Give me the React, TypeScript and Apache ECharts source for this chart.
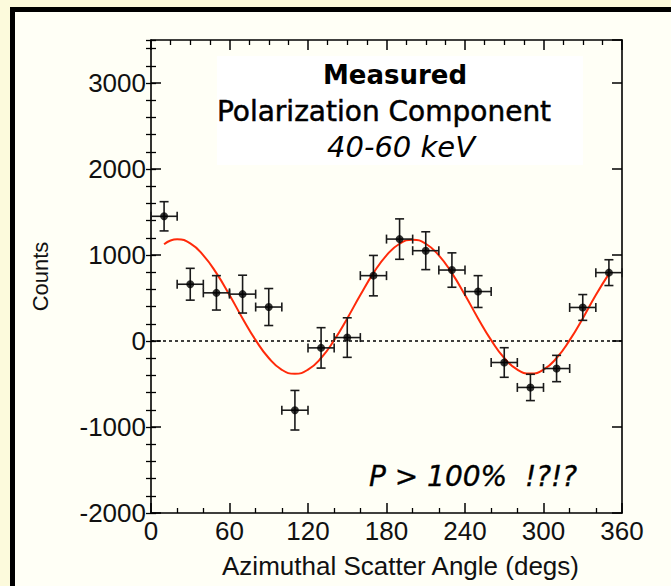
import React, { useEffect, useRef } from "react";
import * as echarts from "echarts";

// ---- data ----
const angles = [10, 30, 50, 70, 90, 110, 130, 150, 170, 190, 210, 230, 250, 270, 290, 310, 330, 350];
const counts = [1450, 660, 560, 545, 395, -805, -80, 40, 760, 1185, 1050, 825, 575, -250, -540, -320, 390, 795];
const countErrors = [170, 185, 200, 220, 215, 230, 235, 230, 235, 235, 220, 200, 185, 172, 153, 153, 150, 150];
const angleHalfWidth = 10;

const fitAngles = [10, 20, 30, 40, 50, 60, 70, 80, 90, 100, 110, 120, 130, 140, 150, 160, 170, 180,
  190, 200, 210, 220, 230, 240, 250, 260, 270, 280, 290, 300, 310, 320, 330, 340, 350];
const fitCounts = [1125, 1182, 1135, 996, 789, 535, 263, 10, -198, -335, -382, -333, -198, 10, 263, 535, 789, 996,
  1131, 1178, 1131, 996, 789, 535, 263, 10, -198, -333, -379, -333, -198, 10, 263, 535, 780];

const zeroLineAngles = [0, 360];
const zeroLineCounts = [0, 0];

const titleLines = ["Measured", "Polarization Component", "40-60 keV"];
const noteText = "P > 100%  !?!?";
const xAxisName = "Azimuthal Scatter Angle (degs)";
const yAxisName = "Counts";

const AXIS_FONT = '"Liberation Sans", Arial, Helvetica, sans-serif';
const NOTE_FONT = '"DejaVu Sans", "Liberation Sans", sans-serif';

export default function App() {
  const ref = useRef<HTMLDivElement>(null);

  useEffect(() => {
    if (!ref.current) return;
    const chart = echarts.init(ref.current, undefined, { renderer: "svg" });

    const axisLine = { show: true, onZero: false, lineStyle: { color: "#000", width: 1.6 } };
    const majorTick = { show: true, inside: true, length: 10, lineStyle: { color: "#000", width: 1.5 } };
    const minorTickStyle = { color: "#000", width: 1.3 };
    const plainNumber = (v: number) => String(v);

    const option: any = {
      animation: false,
      backgroundColor: "#fcfadc",
      grid: { left: 151, right: 49, top: 40, bottom: 73, containLabel: false },
      graphic: [
        { type: "rect", silent: true, z: -20, shape: { x: 10, y: 7, width: 720, height: 640 }, style: { fill: "#000" } },
        { type: "rect", silent: true, z: -19, shape: { x: 15, y: 12, width: 720, height: 640 }, style: { fill: "#fffff6" } },
        { type: "rect", silent: true, z: -18, shape: { x: 217, y: 56, width: 366, height: 109 }, style: { fill: "#ffffff" } },
        { type: "text", z: 50, x: 395, y: 75, style: { text: titleLines[0], fontFamily: NOTE_FONT, fontWeight: "bold", fontSize: 26, fill: "#000", align: "center", verticalAlign: "middle" } },
        { type: "text", z: 50, x: 384, y: 111, style: { text: titleLines[1], fontFamily: NOTE_FONT, fontSize: 28, fill: "#000", stroke: "#000", lineWidth: 0.5, align: "center", verticalAlign: "middle" } },
        { type: "text", z: 50, x: 401, y: 147, style: { text: titleLines[2], fontFamily: NOTE_FONT, fontStyle: "italic", fontSize: 29, fill: "#000", align: "center", verticalAlign: "middle" } },
        { type: "text", z: 50, x: 473, y: 476, style: { text: noteText, fontFamily: NOTE_FONT, fontStyle: "italic", fontSize: 28, fill: "#000", stroke: "#000", lineWidth: 0.35, align: "center", verticalAlign: "middle" } },
      ],
      xAxis: [
        {
          type: "value", position: "bottom", min: 0, max: 360, interval: 60,
          axisLine, axisTick: majorTick,
          minorTick: { show: true, splitNumber: 3, length: 5, lineStyle: minorTickStyle },
          splitLine: { show: false }, minorSplitLine: { show: false },
          axisLabel: { color: "#111", fontSize: 26, fontFamily: AXIS_FONT, margin: 5, formatter: plainNumber },
          name: xAxisName, nameLocation: "middle", nameGap: 40,
          nameTextStyle: { color: "#111", fontSize: 26, fontFamily: AXIS_FONT, padding: [0, 0, 0, 28] },
        },
        {
          type: "value", position: "top", min: 0, max: 360, interval: 60,
          axisLine, axisTick: majorTick,
          minorTick: { show: true, splitNumber: 4, length: 5, lineStyle: minorTickStyle },
          splitLine: { show: false }, minorSplitLine: { show: false },
          axisLabel: { show: false },
        },
      ],
      yAxis: [
        {
          type: "value", position: "left", min: -2000, max: 3500, interval: 1000,
          axisLine, axisTick: majorTick, splitLine: { show: false },
          axisLabel: { color: "#111", fontSize: 26, fontFamily: AXIS_FONT, margin: 5, showMaxLabel: false, formatter: plainNumber },
          name: yAxisName, nameLocation: "middle", nameGap: 100,
          nameTextStyle: { color: "#111", fontSize: 22, fontFamily: AXIS_FONT },
        },
        {
          type: "value", position: "left", min: -2000, max: 3500, interval: 200,
          axisLine: { show: false }, axisTick: { show: true, inside: true, length: 5, lineStyle: minorTickStyle },
          splitLine: { show: false }, axisLabel: { show: false },
        },
        {
          type: "value", position: "right", min: -2000, max: 3500, interval: 1000,
          axisLine, axisTick: majorTick, splitLine: { show: false }, axisLabel: { show: false },
        },
        {
          type: "value", position: "right", min: -2000, max: 3500, interval: 200,
          axisLine: { show: false }, axisTick: { show: true, inside: true, length: 5, lineStyle: minorTickStyle },
          splitLine: { show: false }, axisLabel: { show: false },
        },
      ],
      series: [
        {
          type: "line", xAxisIndex: 0, yAxisIndex: 0, z: 1,
          data: zeroLineAngles.map((a, i) => [a, zeroLineCounts[i]]),
          symbol: "none", silent: true,
          lineStyle: { color: "#000", width: 1.5, type: [3, 3] },
        },
        {
          type: "line", xAxisIndex: 0, yAxisIndex: 0, z: 3,
          data: fitAngles.map((a, i) => [a, fitCounts[i]]),
          smooth: true, symbol: "none", silent: true,
          lineStyle: { color: "#ff2a0a", width: 2 },
        },
        {
          type: "custom", xAxisIndex: 0, yAxisIndex: 0, z: 4,
          data: angles.map((a, i) => [a, counts[i], countErrors[i]]),
          encode: { x: 0, y: 1 },
          renderItem: (params: any, api: any) => {
            const x = api.value(0);
            const y = api.value(1);
            const e = api.value(2);
            const pt = api.coord([x, y + e]);
            const pb = api.coord([x, y - e]);
            const pl = api.coord([x - angleHalfWidth, y]);
            const pr = api.coord([x + angleHalfWidth, y]);
            const cap = 4.5;
            const style = { stroke: "#1a1a1a", lineWidth: 1.6, fill: null };
            const ln = (x1: number, y1: number, x2: number, y2: number) => ({ type: "line", shape: { x1, y1, x2, y2 }, style });
            return {
              type: "group",
              children: [
                ln(pt[0], pt[1], pb[0], pb[1]),
                ln(pt[0] - cap, pt[1], pt[0] + cap, pt[1]),
                ln(pb[0] - cap, pb[1], pb[0] + cap, pb[1]),
                ln(pl[0], pl[1], pr[0], pr[1]),
                ln(pl[0], pl[1] - cap, pl[0], pl[1] + cap),
                ln(pr[0], pr[1] - cap, pr[0], pr[1] + cap),
              ],
            };
          },
        },
        {
          type: "scatter", xAxisIndex: 0, yAxisIndex: 0, z: 5,
          data: angles.map((a, i) => [a, counts[i]]),
          symbol: "circle", symbolSize: 8,
          itemStyle: { color: "#000" },
        },
      ],
    };

    chart.setOption(option);
    return () => chart.dispose();
  }, []);

  return (
    <div
      ref={ref}
      style={{ position: "fixed", left: 0, top: 0, width: 671, height: 586 }}
    />
  );
}
